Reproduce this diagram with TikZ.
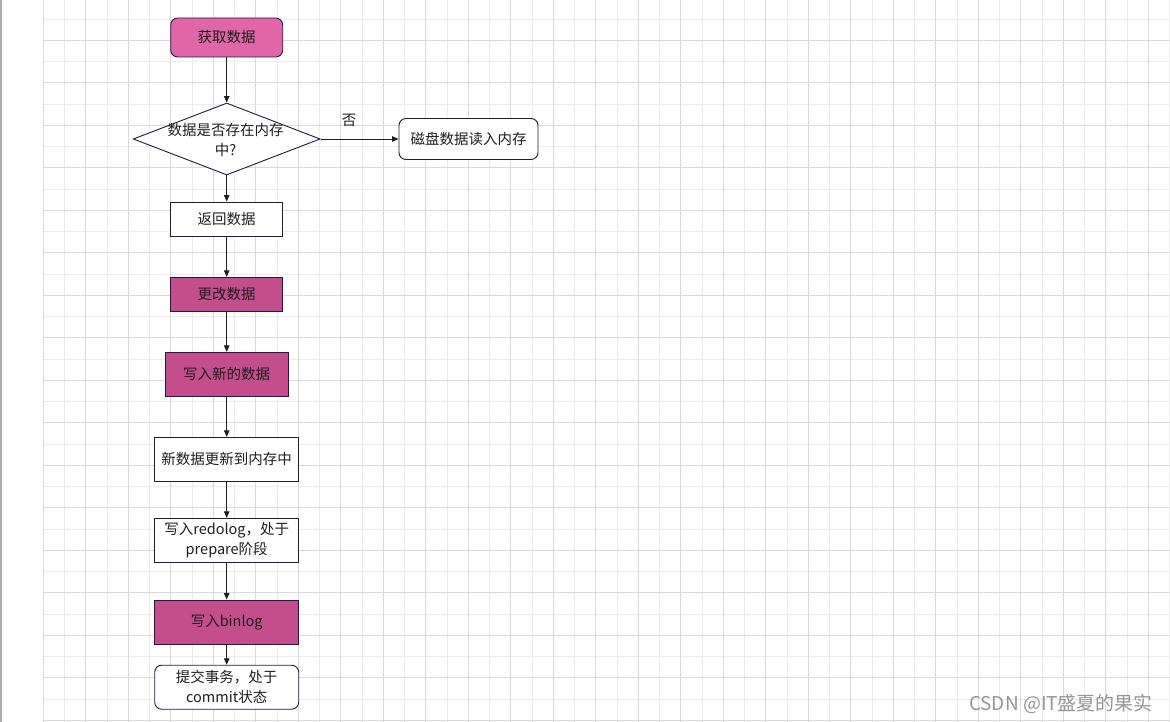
\documentclass[tikz,border=0pt]{standalone}
\usepackage{fontspec}
\setmainfont{Noto Sans CJK SC}
\usetikzlibrary{shapes.geometric,arrows.meta}
\definecolor{gridmajor}{RGB}{218,218,218}
\definecolor{gridminor}{RGB}{236,236,236}
\definecolor{edgegray}{RGB}{175,175,175}
\definecolor{pinklight}{RGB}{224,102,168}
\definecolor{pinkdark}{RGB}{196,78,140}
\definecolor{navy}{RGB}{28,28,72}
\definecolor{txt}{RGB}{30,30,30}
\definecolor{wm}{RGB}{150,150,150}
\begin{document}
\begin{tikzpicture}[x=1pt,y=-1pt,
  basebox/.style={draw=navy, line width=0.9pt, inner sep=0pt, align=center, text=txt,
    font=\fontsize{14.5}{20}\selectfont},
  whitebox/.style={basebox, fill=white},
  pinkbox/.style={basebox, fill=pinkdark},
  roundbox/.style={rounded corners=7pt},
  arr/.style={draw=txt, line width=0.9pt, -{Triangle[length=6.5pt,width=5.5pt]}},
  lbl/.style={text=txt, inner sep=0pt, align=center, font=\fontsize{14.5}{20}\selectfont}]
\useasboundingbox (0,0) rectangle (1170,722);
\fill[white] (0,0) rectangle (1170,722);
% grid
\foreach \k in {0,...,26} {
  \draw[gridminor, line width=0.8pt] ({64.55+42.5*\k},0) -- ({64.55+42.5*\k},722);
}
\foreach \k in {0,...,16} {
  \draw[gridminor, line width=0.8pt] (43.3,{19.05+42.5*\k}) -- (1170,{19.05+42.5*\k});
}
\foreach \k in {0,...,26} {
  \draw[gridmajor, line width=0.9pt] ({43.3+42.5*\k},0) -- ({43.3+42.5*\k},722);
}
\foreach \k in {0,...,16} {
  \draw[gridmajor, line width=0.9pt] (43.3,{40.3+42.5*\k}) -- (1170,{40.3+42.5*\k});
}
\draw[edgegray, line width=1.5pt] (0.8,0) -- (0.8,722);

% nodes
\node[basebox, fill=pinklight, roundbox, minimum width=112pt, minimum height=39pt] (get) at (226.7,37.5) {获取数据};
\node[draw=navy, line width=0.9pt, fill=white, diamond, inner sep=0pt, minimum width=187pt, minimum height=72pt] (dia) at (226.7,139) {};
\node[lbl, text width=140pt] (diatext) at (225.5,140) {数据是否存在内存\\中?};
\node[whitebox, roundbox, minimum width=139pt, minimum height=41pt] (disk) at (468.5,139) {磁盘数据读入内存};
\node[lbl] (no) at (349,120) {否};
\node[whitebox, minimum width=112pt, minimum height=34pt] (ret) at (226.7,219) {返回数据};
\node[pinkbox, minimum width=112pt, minimum height=34pt] (chg) at (226.7,294.3) {更改数据};
\node[pinkbox, minimum width=123pt, minimum height=44pt] (wnew) at (226.7,374.3) {写入新的数据};
\node[whitebox, minimum width=144pt, minimum height=44pt] (upd) at (226.7,459.3) {新数据更新到内存中};
\node[whitebox, minimum width=144pt, minimum height=44pt] (redo) at (226.7,540.3) {写入redolog，处于\\prepare阶段};
\node[pinkbox, minimum width=144pt, minimum height=44pt] (bin) at (226.7,622) {写入binlog};
\node[whitebox, roundbox, minimum width=144pt, minimum height=44pt] (commit) at (226.7,687.2) {提交事务，处于\\commit状态};
\node[text=wm, inner sep=0pt, font=\fontsize{19}{21}\selectfont] (mark) at (1061,704) {CSDN @IT盛夏的果实};

% connectors
\draw[arr] (get) -- (dia);
\draw[arr] (dia.east) -- (disk.west);
\draw[arr] (dia) -- (ret);
\draw[arr] (ret) -- (chg);
\draw[arr] (chg) -- (wnew);
\draw[arr] (wnew) -- (upd);
\draw[arr] (upd) -- (redo);
\draw[arr] (redo) -- (bin);
\draw[arr] (bin) -- (commit);
\end{tikzpicture}
\end{document}
